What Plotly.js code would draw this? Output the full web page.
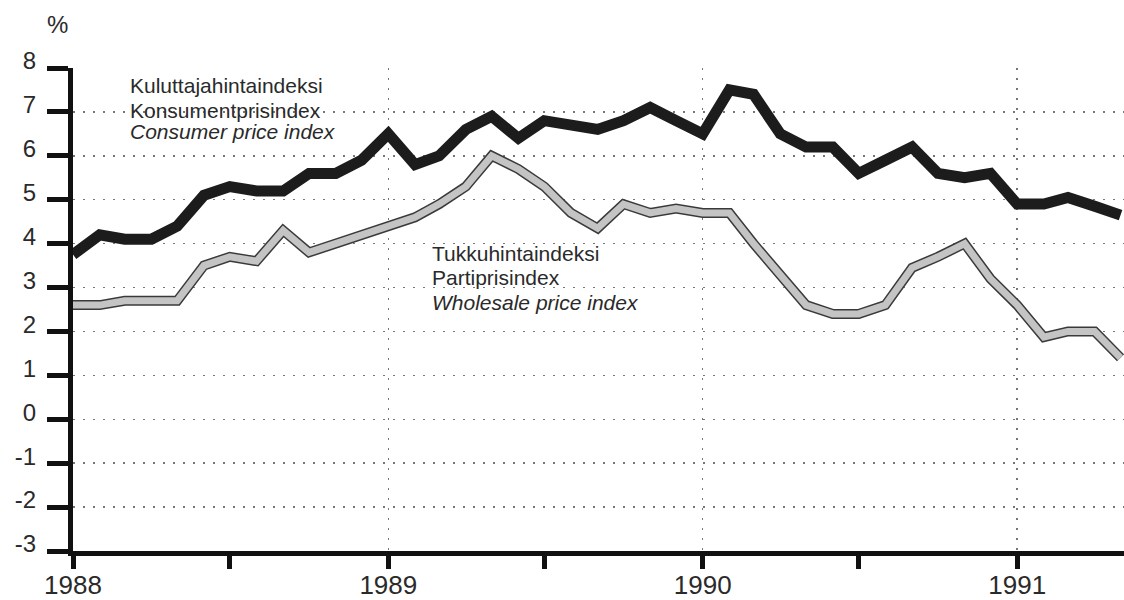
<!DOCTYPE html>
<html>
<head>
<meta charset="utf-8">
<script src="https://cdn.plot.ly/plotly-3.0.1.min.js"></script>
<style>html,body{margin:0;padding:0;background:#fff;}#chart{width:1124px;height:600px;}</style>
</head>
<body>
<div id="chart"></div>
<script>
var months = [
  "1988-01-01","1988-02-01","1988-03-01","1988-04-01","1988-05-01","1988-06-01",
  "1988-07-01","1988-08-01","1988-09-01","1988-10-01","1988-11-01","1988-12-01",
  "1989-01-01","1989-02-01","1989-03-01","1989-04-01","1989-05-01","1989-06-01",
  "1989-07-01","1989-08-01","1989-09-01","1989-10-01","1989-11-01","1989-12-01",
  "1990-01-01","1990-02-01","1990-03-01","1990-04-01","1990-05-01","1990-06-01",
  "1990-07-01","1990-08-01","1990-09-01","1990-10-01","1990-11-01","1990-12-01",
  "1991-01-01","1991-02-01","1991-03-01","1991-04-01","1991-05-01"
];
var consumerPrice = [
  3.75, 4.2, 4.1, 4.1, 4.4, 5.1, 5.3, 5.2, 5.2, 5.6, 5.6, 5.9,
  6.5, 5.8, 6.0, 6.6, 6.9, 6.4, 6.8, 6.7, 6.6, 6.8, 7.1, 6.8,
  6.5, 7.5, 7.4, 6.5, 6.2, 6.2, 5.6, 5.9, 6.2, 5.6, 5.5, 5.6,
  4.9, 4.9, 5.05, 4.85, 4.65
];
var wholesalePrice = [
  2.6, 2.6, 2.7, 2.7, 2.7, 3.5, 3.7, 3.6, 4.3, 3.8, 4.0, 4.2,
  4.4, 4.6, 4.9, 5.3, 6.0, 5.7, 5.3, 4.7, 4.35, 4.9, 4.7, 4.8,
  4.7, 4.7, 4.0, 3.3, 2.6, 2.4, 2.4, 2.6, 3.45, 3.7, 4.0, 3.2,
  2.6, 1.87, 2.0, 2.0, 1.4
];
var cpiLabel = ["Kuluttajahintaindeksi", "Konsumentprisindex", "<i>Consumer price index</i>"];
var wpiLabel = ["Tukkuhintaindeksi", "Partiprisindex", "<i>Wholesale price index</i>"];
var yTicks = [-3, -2, -1, 0, 1, 2, 3, 4, 5, 6, 7, 8];
var yTickText = ["-3", "-2", "-1", "0", "1", "2", "3", "4", "5", "6", "7", "8"];

var FONT = "Liberation Sans, Arial, Helvetica, sans-serif";
var TXT = "#2a2a2a";

var traces = [
  {x: months, y: wholesalePrice, mode: "lines", line: {color: "#3a3a3a", width: 10}, hoverinfo: "skip", showlegend: false},
  {x: months, y: wholesalePrice, mode: "lines", line: {color: "#c4c4c4", width: 7}, showlegend: false},
  {x: months, y: consumerPrice, mode: "lines", line: {color: "#1c1c1c", width: 11}, showlegend: false}
];

var annotations = [
  {text: "%", xref: "paper", yref: "paper", x: -0.015, y: 1.091, xanchor: "center", yanchor: "middle", showarrow: false, font: {family: FONT, size: 24, color: TXT}}
];
var cpiY = [0.963, 0.913, 0.8675];
var wpiY = [0.615, 0.567, 0.5155];
cpiLabel.forEach(function (t, i) {
  annotations.push({text: t, xref: "paper", yref: "paper", x: 0.0523, y: cpiY[i], xanchor: "left", yanchor: "middle", align: "left", showarrow: false, font: {family: FONT, size: 21, color: TXT}});
});
wpiLabel.forEach(function (t, i) {
  annotations.push({text: t, xref: "paper", yref: "paper", x: 0.3397, y: wpiY[i], xanchor: "left", yanchor: "middle", align: "left", showarrow: false, font: {family: FONT, size: 21, color: TXT}});
});

var layout = {
  width: 1124, height: 600,
  margin: {l: 73, r: 0, t: 68, b: 49},
  paper_bgcolor: "#fff", plot_bgcolor: "#fff",
  font: {family: FONT, color: TXT},
  showlegend: false,
  xaxis: {
    type: "date",
    range: ["1988-01-01", "1991-05-05"],
    tick0: "1988-01-01", dtick: "M12", tickformat: "%Y",
    ticks: "outside", ticklen: 13, tickwidth: 5, tickcolor: "#111",
    showline: true, linewidth: 5, linecolor: "#111",
    showgrid: true, gridcolor: "#777", gridwidth: 1.5, griddash: "2px,8px",
    zeroline: false,
    tickfont: {family: FONT, size: 26, color: TXT},
    ticklabelstandoff: -6,
    minor: {dtick: "M6", ticks: "outside", ticklen: 13, tickwidth: 5, tickcolor: "#111", showgrid: false}
  },
  yaxis: {
    range: [-3, 8],
    tickvals: yTicks, ticktext: yTickText,
    ticks: "outside", ticklen: 21, tickwidth: 5, tickcolor: "#111",
    showline: true, linewidth: 5, linecolor: "#111",
    showgrid: true, gridcolor: "#777", gridwidth: 1.5, griddash: "2px,8px",
    zeroline: false,
    tickfont: {family: FONT, size: 24, color: TXT},
    ticklabelshift: -7,
    ticklabelstandoff: 6,
    fixedrange: true
  },
  annotations: annotations
};

Plotly.newPlot("chart", traces, layout, {staticPlot: true, displayModeBar: false});
</script>
</body>
</html>
